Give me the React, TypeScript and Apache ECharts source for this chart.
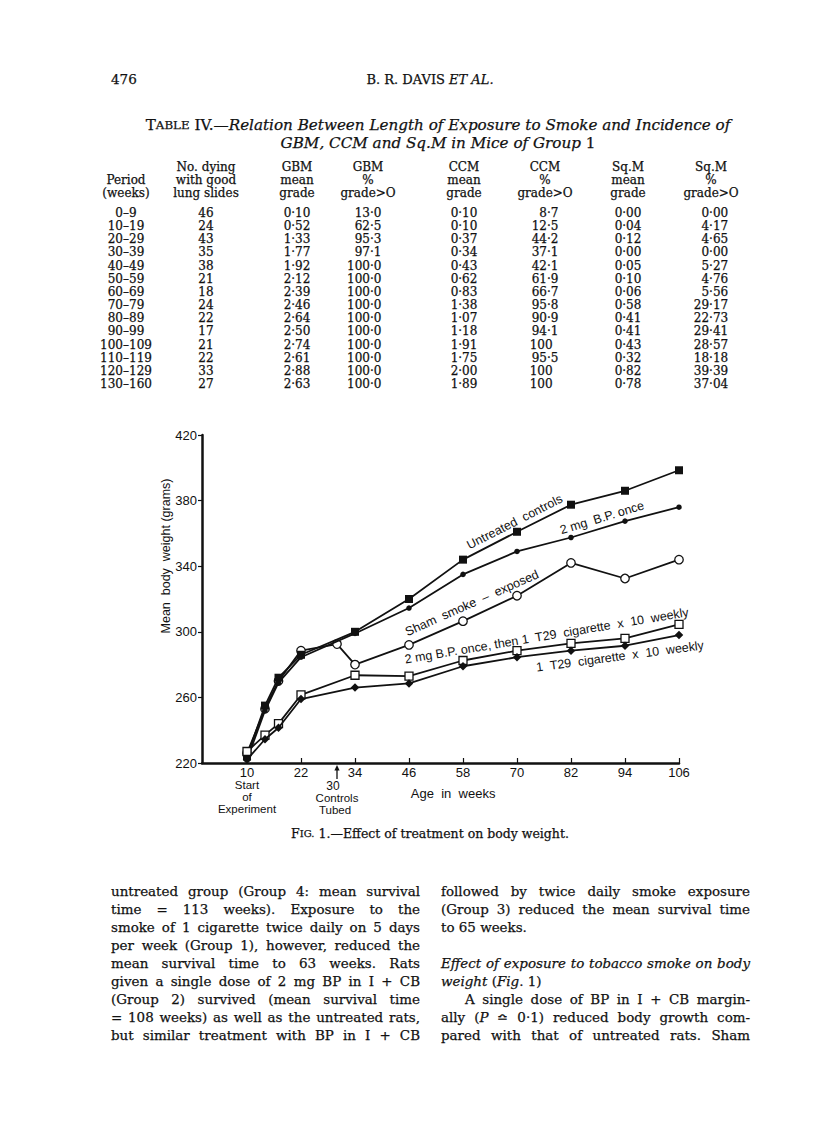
import React, { useEffect, useRef } from "react";
import * as echarts from "echarts";

const PAGE_W = 816;
const PAGE_H = 1140;
const SERIF = '"DejaVu Serif", "Liberation Serif", serif';
const SANS = '"Liberation Sans", Arial, sans-serif';
const INK = "#111";

// ---------------- Table IV data ----------------
const periods = ["0–9", "10–19", "20–29", "30–39", "40–49", "50–59", "60–69", "70–79", "80–89", "90–99", "100–109", "110–119", "120–129", "130–160"];
const noDying = ["46", "24", "43", "35", "38", "21", "18", "24", "22", "17", "21", "22", "33", "27"];
const gbmMean = ["0·10", "0·52", "1·33", "1·77", "1·92", "2·12", "2·39", "2·46", "2·64", "2·50", "2·74", "2·61", "2·88", "2·63"];
const gbmPct = ["13·0", "62·5", "95·3", "97·1", "100·0", "100·0", "100·0", "100·0", "100·0", "100·0", "100·0", "100·0", "100·0", "100·0"];
const ccmMean = ["0·10", "0·10", "0·37", "0·34", "0·43", "0·62", "0·83", "1·38", "1·07", "1·18", "1·91", "1·75", "2·00", "1·89"];
const ccmPct = ["8·7", "12·5", "44·2", "37·1", "42·1", "61·9", "66·7", "95·8", "90·9", "94·1", "100", "95·5", "100", "100"];
const sqmMean = ["0·00", "0·04", "0·12", "0·00", "0·05", "0·10", "0·06", "0·58", "0·41", "0·41", "0·43", "0·32", "0·82", "0·78"];
const sqmPct = ["0·00", "4·17", "4·65", "0·00", "5·27", "4·76", "5·56", "29·17", "22·73", "29·41", "28·57", "18·18", "39·39", "37·04"];

const headPeriod = ["", "Period", "(weeks)"];
const headNoDying = ["No. dying", "with good", "lung slides"];
const headGbmMean = ["GBM", "mean", "grade"];
const headGbmPct = ["GBM", "%", "grade>O"];
const headCcmMean = ["CCM", "mean", "grade"];
const headCcmPct = ["CCM", "%", "grade>O"];
const headSqmMean = ["Sq.M", "mean", "grade"];
const headSqmPct = ["Sq.M", "%", "grade>O"];

// ---------------- Fig. 1 data ----------------
const ageWeeks = [10, 14, 17, 22, 34, 46, 58, 70, 82, 94, 106];
const shamWeeks = [10, 14, 17, 22, 30, 34, 46, 58, 70, 82, 94, 106];
const untreatedControls = [224, 255, 272, 286, 300, 320, 344, 361, 377.5, 386, 398.5];
const bpOnce = [222, 252, 269, 284.5, 299, 314.5, 335, 349, 357.5, 367.5, 376];
const shamSmoke = [226, 253, 270, 288.5, 292.5, 280, 292, 306.5, 322, 342, 332.5, 344];
const bpThenT29 = [227, 237, 244, 261.5, 273.5, 273, 282.5, 288.5, 293, 296, 304.5];
const t29Only = [222, 234.5, 241.5, 259, 266, 268.5, 279, 284.5, 288.5, 291.5, 298];
const xTickWeeks = [10, 22, 34, 46, 58, 70, 82, 94, 106];
const yTickGrams = [220, 260, 300, 340, 380, 420];

// line annotations: text, anchor [week, grams], angle (deg)
const lineLabelTexts = ["Untreated  controls", "2 mg  B.P. once", "Sham  smoke  –  exposed", "2 mg B.P. once, then 1  T29  cigarette  x  10  weekly", "1  T29  cigarette  x  10  weekly"];
const lineLabelAnchors = [[69.5, 367], [88.9, 369.5], [60, 317.5], [76.6, 297.5], [92.9, 285]];
const lineLabelAngles = [27, 17, 24, 9.5, 7.5];

// ---------------- Body text ----------------
const leftColumn = [
  "untreated group (Group 4: mean survival",
  "time = 113 weeks).  Exposure to the",
  "smoke of 1 cigarette twice daily on 5 days",
  "per week (Group 1), however, reduced the",
  "mean survival time to 63 weeks.  Rats",
  "given a single dose of 2 mg BP in I + CB",
  "(Group 2) survived (mean survival time",
  "= 108 weeks) as well as the untreated rats,",
  "but similar treatment with BP in I + CB",
];
const rightColumn = [
  "followed by twice daily smoke exposure",
  "(Group 3) reduced the mean survival time",
  "to 65 weeks.",
  "",
  "*Effect of exposure to tobacco smoke on body*",
  "*weight* (*Fig*. 1)",
  "A single dose of BP in I + CB margin-",
  "ally (*P* ≏ 0·1) reduced body growth com-",
  "pared with that of untreated rats.  Sham",
];
const rightJustify = [true, true, false, false, true, false, true, true, true];
const rightIndent = [0, 0, 0, 0, 0, 0, 24, 0, 0];

// ---------------- helpers ----------------
let _ctx: CanvasRenderingContext2D | null = null;
function measure(text: string, font: string): number {
  if (!_ctx) _ctx = document.createElement("canvas").getContext("2d");
  _ctx!.font = font;
  return _ctx!.measureText(text).width;
}

function T(x: number, y: number, text: string, size: number, o: any = {}) {
  const align = o.align || "left";
  const valign = o.valign || "middle";
  const serif = !o.family || o.family === SERIF;
  return {
    type: "text",
    x,
    y,
    rotation: o.rotation || 0,
    silent: true,
    z: 100,
    style: {
      text,
      fill: INK,
      stroke: serif ? INK : undefined,
      lineWidth: serif ? 0.25 : 0,
      fontSize: size,
      fontFamily: o.family || SERIF,
      fontStyle: o.italic ? "italic" : "normal",
      fontWeight: "normal",
      textAlign: align,
      align,
      textVerticalAlign: valign,
      verticalAlign: valign,
      rich: o.rich,
    },
  };
}

type Seg = { t: string; it: boolean };
function parseLine(line: string): Seg[][] {
  const words: Seg[][] = [];
  let cur: Seg[] = [];
  let it = false;
  let buf = "";
  const flush = () => {
    if (buf) {
      cur.push({ t: buf, it });
      buf = "";
    }
  };
  for (const ch of line) {
    if (ch === "*") {
      flush();
      it = !it;
    } else if (ch === " ") {
      flush();
      if (cur.length) {
        words.push(cur);
        cur = [];
      }
    } else buf += ch;
  }
  flush();
  if (cur.length) words.push(cur);
  return words;
}

function wordWidth(w: Seg[], size: number) {
  return w.reduce((s, seg) => s + measure(seg.t, `${seg.it ? "italic " : ""}${size}px ${SERIF}`), 0);
}

function naturalWidth(line: string, size: number) {
  const ws = parseLine(line);
  const sp = measure(" ", `${size}px ${SERIF}`);
  return ws.reduce((s, w) => s + wordWidth(w, size), 0) + sp * (ws.length - 1);
}

function paragraphLine(line: string, x0: number, width: number, y: number, size: number, justify: boolean, indent = 0) {
  const words = parseLine(line);
  const ws = words.map((w) => wordWidth(w, size));
  const total = ws.reduce((a, b) => a + b, 0);
  const sp = measure(" ", `${size}px ${SERIF}`);
  const avail = width - indent;
  const gap = justify && words.length > 1 ? (avail - total) / (words.length - 1) : sp;
  let x = x0 + indent;
  const rich = { i: { fontStyle: "italic", fontSize: size, fontFamily: SERIF, fill: INK, stroke: INK, lineWidth: 0.25 } };
  return words.map((w, i) => {
    const s = w.map((seg) => (seg.it ? `{i|${seg.t}}` : seg.t)).join("");
    const el = T(x, y, s, size, { rich });
    x += ws[i] + gap;
    return el;
  });
}

function buildGraphic(chart: any) {
  const els: any[] = [];
  const P = (x: number, y: number) => chart.convertToPixel({ gridIndex: 0 }, [x, y]) as number[];
  const CENTER = 430;

  // running head
  els.push(T(111, 79, "476", 13.5));
  els.push(
    T(CENTER, 79, "B. R. DAVIS {i|ET AL.}", 13, {
      align: "center",
      rich: { i: { fontStyle: "italic", fontSize: 13, fontFamily: SERIF, fill: INK, stroke: INK, lineWidth: 0.25 } },
    })
  );

  // table title, fitted to the measured width
  const titleItalic = "Relation Between Length of Exposure to Smoke and Incidence of";
  const w10 =
    measure("T", `10px ${SERIF}`) +
    measure("ABLE", `7.8px ${SERIF}`) +
    measure(" IV.—", `10px ${SERIF}`) +
    measure(titleItalic, `italic 10px ${SERIF}`);
  const ts = Math.min(17, (10 * 585) / w10);
  const titleRich = {
    a: { fontSize: ts, fontFamily: SERIF, fill: INK, stroke: INK, lineWidth: 0.25 },
    b: { fontSize: ts * 0.78, fontFamily: SERIF, fill: INK, stroke: INK, lineWidth: 0.25 },
    i: { fontSize: ts, fontFamily: SERIF, fontStyle: "italic", fill: INK, stroke: INK, lineWidth: 0.25 },
  };
  els.push(T(438, 125, `{a|T}{b|ABLE} IV.—{i|${titleItalic}}`, ts, { align: "center", rich: titleRich }));
  els.push(T(438, 143, `{i|GBM, CCM and Sq.M in Mice of Group} 1`, ts, { align: "center", rich: titleRich }));

  // table
  const TS = 12;
  const tf = `${TS}px ${SERIF}`;
  const headY = [167, 180, 193];
  const rowY0 = 213;
  const rowDY = 13.15;
  const cols = [
    { head: headPeriod, vals: periods, c: 126, typical: "" },
    { head: headNoDying, vals: noDying, c: 206, typical: "" },
    { head: headGbmMean, vals: gbmMean, c: 297, typical: "0·10" },
    { head: headGbmPct, vals: gbmPct, c: 368, typical: "13·0" },
    { head: headCcmMean, vals: ccmMean, c: 464, typical: "0·10" },
    { head: headCcmPct, vals: ccmPct, c: 545, typical: "12·5" },
    { head: headSqmMean, vals: sqmMean, c: 628, typical: "0·00" },
    { head: headSqmPct, vals: sqmPct, c: 711, typical: "29·17" },
  ];
  cols.forEach((col) => {
    col.head.forEach((h, i) => {
      if (h) els.push(T(col.c, headY[i], h, TS, { align: "center" }));
    });
    col.vals.forEach((v, r) => {
      const y = rowY0 + r * rowDY;
      if (!col.typical) {
        els.push(T(col.c, y, v, TS, { align: "center" }));
      } else {
        const right = col.c + measure(col.typical, tf) / 2;
        if (v === "100" && col.typical === "12·5") {
          els.push(T(right - measure("94·1", tf) - 2, y, v, TS, { align: "left" }));
        } else {
          els.push(T(right, y, v, TS, { align: "right" }));
        }
      }
    });
  });

  // figure: axis title
  els.push(T(166, 556, "Mean  body  weight (grams)", 12.5, { family: SANS, align: "center", rotation: Math.PI / 2 }));

  // figure: line labels
  const longLen = measure(lineLabelTexts[3], `10px ${SANS}`);
  const ls = Math.max(11, Math.min(13, (10 * 288) / longLen));
  lineLabelTexts.forEach((t, i) => {
    const [px, py] = P(lineLabelAnchors[i][0], lineLabelAnchors[i][1]);
    els.push(T(px, py, t, ls, { family: SANS, align: "center", rotation: (lineLabelAngles[i] * Math.PI) / 180 }));
  });

  // figure: annotations below the axis
  const [x10, yBase] = P(10, 220);
  const [x30] = P(30, 220);
  const AF = 11.5;
  els.push(T(x10, yBase + 22, "Start", AF, { family: SANS, align: "center" }));
  els.push(T(x10, yBase + 34, "of", AF, { family: SANS, align: "center" }));
  els.push(T(x10, yBase + 46, "Experiment", AF, { family: SANS, align: "center" }));
  els.push(T(x30 - 4, yBase + 23, "30", 12, { family: SANS, align: "center" }));
  els.push(T(x30, yBase + 35, "Controls", AF, { family: SANS, align: "center" }));
  els.push(T(x30 - 2, yBase + 47, "Tubed", AF, { family: SANS, align: "center" }));
  const [xAge] = P(55.8, 220);
  els.push(T(xAge, yBase + 30, "Age  in  weeks", 13, { family: SANS, align: "center" }));
  els.push({
    type: "line",
    silent: true,
    shape: { x1: x30, y1: yBase + 16, x2: x30, y2: yBase + 5 },
    style: { stroke: INK, lineWidth: 1.3 },
  });
  els.push({
    type: "polygon",
    silent: true,
    shape: { points: [[x30 - 2.6, yBase + 7.5], [x30 + 2.6, yBase + 7.5], [x30, yBase + 2]] },
    style: { fill: INK },
  });

  // caption
  const capRich = {
    a: { fontSize: 12.5, fontFamily: SERIF, fill: INK, stroke: INK, lineWidth: 0.25 },
    b: { fontSize: 10, fontFamily: SERIF, fill: INK, stroke: INK, lineWidth: 0.25 },
  };
  els.push(T(CENTER, 833, "{a|F}{b|IG.} 1.—Effect of treatment on body weight.", 12.5, { align: "center", rich: capRich }));

  // body text
  const COL_W = 309;
  const LX = 111;
  const RX = 441;
  const Y0 = 891;
  const LH = 18;
  const justified: string[] = [...leftColumn.slice(0, 8), ...rightColumn.filter((l, i) => rightJustify[i])];
  let bs = 15;
  justified.forEach((l) => {
    const idx = rightColumn.indexOf(l);
    const ind = idx >= 0 ? rightIndent[idx] : 0;
    const nat = naturalWidth(l, 10);
    bs = Math.min(bs, (10 * (COL_W - ind) * 0.99) / nat);
  });
  leftColumn.forEach((l, i) => {
    els.push(...paragraphLine(l, LX, COL_W, Y0 + i * LH, bs, true));
  });
  rightColumn.forEach((l, i) => {
    if (!l) return;
    els.push(...paragraphLine(l, RX, COL_W, Y0 + i * LH, bs, rightJustify[i], rightIndent[i]));
  });

  return els;
}

function makeSeries(name: string, xs: number[], ys: number[], symbol: string, size: number, filled: boolean, z: number) {
  return {
    type: "line",
    name,
    data: xs.map((x, i) => [x, ys[i]]),
    symbol,
    symbolSize: size,
    showSymbol: true,
    z,
    silent: true,
    emphasis: { disabled: true },
    lineStyle: { color: INK, width: 1.8 },
    itemStyle: { color: filled ? INK : "#fff", borderColor: INK, borderWidth: filled ? 0 : 1.3 },
  };
}

export default function App() {
  const ref = useRef<HTMLDivElement>(null);
  useEffect(() => {
    const el = ref.current!;
    const chart = echarts.init(el, null, { renderer: "svg", width: PAGE_W, height: PAGE_H });
    const axisCommon = {
      type: "value",
      splitLine: { show: false },
      axisLine: { show: true, lineStyle: { color: INK, width: 2.5 } },
    };
    chart.setOption({
      animation: false,
      backgroundColor: "#fff",
      tooltip: { show: false },
      grid: { left: 202, top: 435, width: 477, height: 328, containLabel: false },
      xAxis: {
        ...axisCommon,
        min: 0,
        max: 106,
        axisTick: { show: true, inside: true, length: 5, customValues: xTickWeeks, lineStyle: { color: INK, width: 1.2 } },
        axisLabel: { customValues: xTickWeeks, color: INK, fontFamily: SANS, fontSize: 13, margin: 3 },
      },
      yAxis: {
        ...axisCommon,
        min: 220,
        max: 420,
        axisTick: { show: true, inside: false, length: 4, customValues: yTickGrams, lineStyle: { color: INK, width: 1.2 } },
        axisLabel: { customValues: yTickGrams, color: INK, fontFamily: SANS, fontSize: 13, margin: 5 },
      },
      series: [
        makeSeries("Sham smoke - exposed", shamWeeks, shamSmoke, "circle", 8.5, false, 2),
        makeSeries("Untreated controls", ageWeeks, untreatedControls, "rect", 8, true, 3),
        makeSeries("2 mg B.P. once", ageWeeks, bpOnce, "circle", 5.5, true, 3),
        makeSeries("2 mg B.P. once, then 1 T29 cigarette x 10 weekly", ageWeeks, bpThenT29, "rect", 8, false, 4),
        makeSeries("1 T29 cigarette x 10 weekly", ageWeeks, t29Only, "diamond", 8.5, true, 5),
      ],
    });
    chart.setOption({ graphic: buildGraphic(chart) });
    return () => chart.dispose();
  }, []);
  return (
    <div
      ref={ref}
      style={{ position: "absolute", left: 0, top: 0, width: PAGE_W, height: PAGE_H, background: "#fff" }}
    />
  );
}
